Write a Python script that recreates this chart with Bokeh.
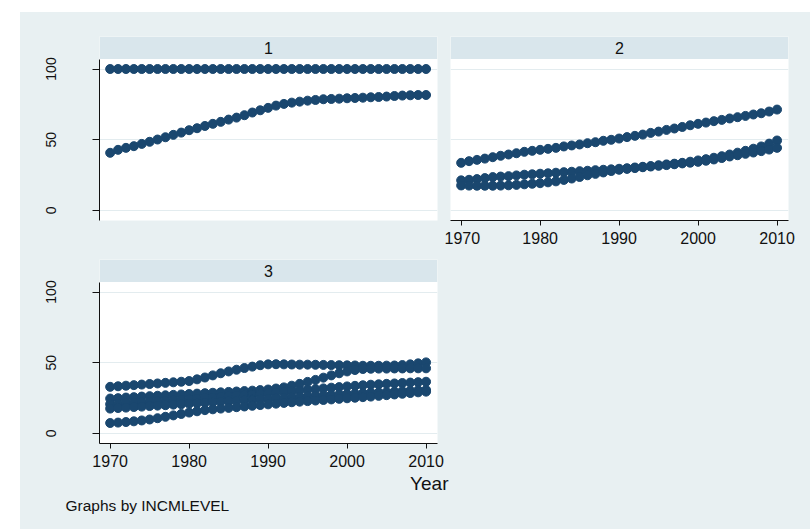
from bokeh.plotting import figure
from bokeh.layouts import row, column
from bokeh.models import FixedTicker, BoxAnnotation, Label, Range1d, Spacer, Title
from bokeh.embed import file_html
from bokeh.resources import INLINE

# ---------------- data ----------------
YEARS = list(range(1970, 2011))
PANEL_LABELS = ["1", "2", "3"]
X_TICKS = [1970, 1980, 1990, 2000, 2010]
Y_TICKS = [0, 50, 100]
X_TITLE = "Year"
NOTE = "Graphs by INCMLEVEL"

# INCMLEVEL 1
p1_a = [100, 100, 100, 100, 100, 100, 100, 100, 100, 100,
        100, 100, 100, 100, 100, 100, 100, 100, 100, 100,
        100, 100, 100, 100, 100, 100, 100, 100, 100, 100,
        100, 100, 100, 100, 100, 100, 100, 100, 100, 100,
        100]
p1_b = [40.7, 42.8, 44.2, 45.4, 47.0, 48.5, 50.1, 51.7, 53.4, 55.0,
        56.7, 58.1, 59.7, 61.2, 62.6, 64.2, 65.6, 67.3, 69.2, 70.8,
        72.5, 74.1, 75.3, 76.2, 76.9, 77.6, 78.1, 78.6, 78.8, 79.0,
        79.3, 79.5, 79.7, 80.0, 80.2, 80.5, 80.9, 81.2, 81.4, 81.6,
        81.6]

# INCMLEVEL 2
p2_a = [33.6, 34.8, 35.7, 36.6, 37.6, 38.6, 39.5, 40.4, 41.4, 42.1,
        42.8, 43.5, 44.2, 45.2, 45.9, 46.6, 47.5, 48.2, 49.2, 49.9,
        50.8, 51.8, 52.7, 53.6, 54.8, 55.7, 56.9, 57.9, 59.0, 60.2,
        61.2, 62.1, 63.1, 64.0, 65.0, 65.9, 66.8, 67.8, 68.7, 69.9,
        71.3]
p2_b = [21.2, 21.6, 22.1, 22.8, 23.5, 23.9, 24.2, 24.7, 25.2, 25.5,
        25.9, 26.2, 26.6, 27.0, 27.3, 27.7, 28.0, 28.4, 28.7, 29.0,
        29.4, 29.8, 30.3, 30.8, 31.3, 31.9, 32.5, 33.0, 33.6, 34.4,
        35.3, 36.2, 37.2, 38.3, 39.5, 40.8, 42.1, 43.6, 45.2, 47.2,
        49.4]
p2_c = [17.6, 17.5, 17.4, 17.4, 17.4, 17.5, 17.7, 18.0, 18.4, 18.8,
        19.2, 19.8, 20.5, 21.5, 22.5, 23.6, 24.8, 25.8, 26.8, 27.8,
        28.7, 29.3, 29.9, 30.5, 31.0, 31.5, 32.0, 32.6, 33.2, 33.7,
        34.3, 35.1, 36.0, 37.0, 38.1, 39.0, 40.0, 40.9, 41.9, 43.0,
        44.2]

# INCMLEVEL 3
p3_a = [32.9, 33.3, 33.7, 34.1, 34.5, 34.9, 35.3, 35.7, 36.1, 36.5,
        37.0, 38.2, 39.5, 41.0, 42.5, 43.8, 45.0, 46.2, 47.2, 48.2,
        48.8, 48.9, 48.8, 48.7, 48.6, 48.6, 48.5, 48.4, 48.3, 48.2,
        48.1, 48.0, 47.8, 47.8, 47.8, 47.9, 48.0, 48.3, 48.8, 49.5,
        50.2]
p3_b = [24.6, 24.9, 25.3, 25.6, 26.0, 26.3, 26.6, 26.9, 27.2, 27.5,
        27.8, 28.1, 28.4, 28.7, 29.0, 29.3, 29.6, 29.9, 30.2, 30.6,
        31.0, 31.7, 32.5, 33.7, 35.0, 36.4, 37.8, 39.4, 41.0, 42.5,
        43.8, 44.8, 45.5, 45.7, 45.8, 45.8, 45.9, 45.9, 46.0, 46.0,
        46.0]
p3_c = [20.6, 20.9, 21.3, 21.6, 22.0, 22.3, 22.7, 23.1, 23.4, 23.8,
        24.2, 24.6, 25.0, 25.4, 25.8, 26.2, 26.6, 27.0, 27.4, 27.9,
        28.3, 28.8, 29.3, 29.8, 30.3, 30.8, 31.3, 31.8, 32.3, 32.7,
        33.2, 33.6, 34.0, 34.4, 34.7, 35.0, 35.3, 35.6, 35.9, 36.2,
        36.5]
p3_d = [17.5, 17.9, 18.2, 18.6, 18.9, 19.3, 19.6, 19.9, 20.3, 20.6,
        21.0, 21.3, 21.7, 22.0, 22.4, 22.7, 23.0, 23.4, 23.7, 24.1,
        24.4, 24.8, 25.1, 25.5, 25.8, 26.2, 26.5, 26.9, 27.2, 27.5,
        27.8, 28.1, 28.4, 28.7, 28.9, 29.2, 29.5, 29.8, 30.1, 30.4,
        30.7]
p3_e = [7.3, 7.6, 8.0, 8.5, 9.1, 9.8, 10.7, 11.7, 12.7, 13.7,
        14.7, 15.6, 16.4, 17.0, 17.5, 18.0, 18.5, 19.0, 19.5, 20.0,
        20.5, 21.0, 21.5, 22.0, 22.4, 22.8, 23.2, 23.6, 24.0, 24.4,
        24.8, 25.2, 25.6, 26.0, 26.5, 27.0, 27.5, 28.0, 28.5, 29.0,
        29.5]

PANELS = [[p1_a, p1_b], [p2_a, p2_b, p2_c], [p3_a, p3_b, p3_c, p3_d, p3_e]]

# ---------------- style ----------------
BG = "#e8f0f2"
STRIP = "#d9e6ec"
GRID = "#e3ecef"
NAVY = "#1a476f"
INK = "#111111"
FONT = "Liberation Sans"
X0, X1 = 1968.65, 2011.45
Y0, Y1 = -7.2, 123.0
STRIP_Y = 107.0


def panel(idx, width, height, mb_left, mb_right, mb_top, mb_bottom, show_x, show_y):
    p = figure(width=width, height=height, output_backend="svg", toolbar_location=None,
               x_range=Range1d(X0, X1), y_range=Range1d(Y0, Y1),
               x_axis_location="below" if show_x else None,
               y_axis_location="left" if show_y else None,
               min_border_left=mb_left, min_border_right=mb_right,
               min_border_top=mb_top, min_border_bottom=mb_bottom)
    p.border_fill_color = BG
    p.background_fill_color = "white"
    p.outline_line_color = None
    p.xgrid.grid_line_color = None
    p.ygrid.ticker = FixedTicker(ticks=Y_TICKS)
    p.ygrid.grid_line_color = GRID
    p.ygrid.grid_line_width = 1.2
    if show_y:
        ax = p.yaxis[0]
        ax.ticker = FixedTicker(ticks=Y_TICKS)
        ax.bounds = (Y0, STRIP_Y)
        ax.major_label_orientation = "vertical"
        ax.axis_line_color = INK
        ax.major_tick_line_color = INK
        ax.major_tick_out = 7
        ax.major_tick_in = 0
        ax.minor_tick_line_color = None
        ax.major_label_text_font = FONT
        ax.major_label_text_font_size = "14px"
        ax.major_label_text_color = INK
        ax.major_label_standoff = 36
    if show_x:
        ax = p.xaxis[0]
        ax.ticker = FixedTicker(ticks=X_TICKS)
        ax.axis_line_color = INK
        ax.major_tick_line_color = INK
        ax.major_tick_out = 5
        ax.major_tick_in = 0
        ax.minor_tick_line_color = None
        ax.major_label_text_font = FONT
        ax.major_label_text_font_size = "16px"
        ax.major_label_text_color = INK
        ax.major_label_standoff = 6
    p.add_layout(BoxAnnotation(bottom=STRIP_Y, fill_color=STRIP, fill_alpha=1.0,
                               line_color=None))
    p.add_layout(Label(x=(X0 + X1) / 2, y=(STRIP_Y + Y1) / 2, text=PANEL_LABELS[idx],
                       text_align="center", text_baseline="middle",
                       text_font=FONT, text_font_size="16px", text_color=INK))
    for series in PANELS[idx]:
        p.scatter(YEARS, series, size=9, color=NAVY, line_color=NAVY)
    return p


f1 = panel(0, 424, 238, 79, 7, 24, 30, False, True)
f2 = panel(1, 366, 238, 6, 22, 24, 30, True, False)
f3 = panel(2, 440, 279, 79, 23, 9, 86, True, True)

f3.add_layout(Title(text=X_TITLE, align="right", offset=-11, standoff=2,
                    text_font=FONT, text_font_size="19px", text_font_style="normal",
                    text_color=INK), "below")
f3.add_layout(Title(text=NOTE, align="left", offset=-34, standoff=0,
                    text_font=FONT, text_font_size="15.5px", text_font_style="normal",
                    text_color=INK), "below")

sp = Spacer(width=350, height=279, styles={"background-color": BG})

layout = column(row(f1, f2, spacing=0), row(f3, sp, spacing=0), spacing=0,
                margin=(12, 0, 0, 20), styles={"background-color": BG})

open("out.html", "w").write(file_html(layout, INLINE))
